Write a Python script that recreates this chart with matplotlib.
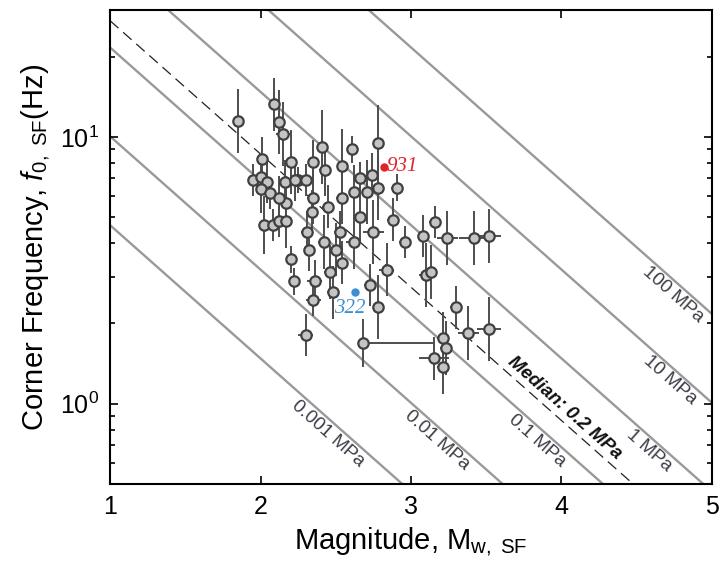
import numpy as np
import matplotlib.pyplot as plt

plt.rcParams['font.family'] = ['Liberation Sans', 'DejaVu Sans']
plt.rcParams['mathtext.fontset'] = 'custom'
plt.rcParams['mathtext.rm'] = 'Liberation Sans'
plt.rcParams['mathtext.it'] = 'Liberation Sans:italic'
plt.rcParams['mathtext.bf'] = 'Liberation Sans:bold'

# Event estimates: magnitude, corner frequency (Hz), errors
mag = [1.85, 2.09, 2.12, 2.15, 2.01, 2.20, 1.95, 2.00, 2.04, 2.00,
       2.06, 2.16, 2.25, 2.02, 2.08, 2.12, 2.17, 2.20, 2.22, 2.30,
       2.68, 2.34, 2.45, 2.66, 2.88, 2.31, 2.42, 2.53, 2.75, 2.32,
       2.50, 2.54, 2.62, 2.46, 2.36, 2.48, 2.73, 2.84, 2.35, 2.78,
       2.96, 2.41, 2.61, 2.35, 2.78, 2.43, 2.54, 2.66, 2.74, 2.23,
       2.30, 2.78, 2.91, 2.62, 2.71, 2.54, 2.35, 3.16, 3.08, 3.24,
       3.42, 3.52, 3.10, 3.13, 3.30, 3.38, 3.52, 3.21, 3.23, 3.15,
       3.21, 2.17, 2.12]
freq = [11.5, 13.3, 11.4, 10.3, 8.3, 8.1, 6.9, 7.1, 6.8, 6.4,
        6.2, 6.8, 6.9, 4.69, 4.69, 4.84, 4.84, 3.48, 2.88, 1.81,
        1.69, 5.25, 5.48, 5.03, 4.90, 4.40, 4.04, 4.40, 4.40, 3.78,
        3.78, 3.38, 4.04, 3.12, 2.88, 2.62, 2.79, 3.18, 2.45, 2.30,
        4.04, 9.2, 9.0, 8.1, 9.55, 7.56, 7.8, 7.05, 7.24, 6.93,
        6.93, 6.47, 6.47, 6.22, 6.22, 5.93, 5.93, 4.80, 4.26, 4.18,
        4.18, 4.26, 3.04, 3.12, 2.30, 1.84, 1.90, 1.76, 1.62, 1.48,
        1.37, 5.68, 5.93]
mag_err_lo = [0.02, 0.03, 0.03, 0.05, 0.03, 0.03, 0.03, 0.03, 0.04, 0.03,
              0.03, 0.04, 0.04, 0.03, 0.03, 0.03, 0.03, 0.03, 0.03, 0.05,
              0.02, 0.03, 0.04, 0.03, 0.04, 0.04, 0.04, 0.04, 0.07, 0.03,
              0.04, 0.04, 0.05, 0.04, 0.05, 0.04, 0.04, 0.05, 0.05, 0.03,
              0.04, 0.03, 0.03, 0.03, 0.03, 0.04, 0.03, 0.04, 0.03, 0.03,
              0.03, 0.03, 0.04, 0.03, 0.03, 0.04, 0.04, 0.04, 0.03, 0.07,
              0.10, 0.08, 0.05, 0.03, 0.04, 0.07, 0.08, 0.04, 0.04, 0.10,
              0.04, 0.03, 0.03]
mag_err_hi = list(mag_err_lo)
mag_err_hi[20] = 0.47
logf_err = [0.12, 0.10, 0.12, 0.12, 0.08, 0.12, 0.06, 0.06, 0.08, 0.09,
            0.06, 0.08, 0.05, 0.11, 0.06, 0.06, 0.10, 0.05, 0.05, 0.08,
            0.09, 0.08, 0.08, 0.10, 0.08, 0.08, 0.10, 0.08, 0.12, 0.08,
            0.10, 0.08, 0.10, 0.10, 0.08, 0.10, 0.08, 0.10, 0.06, 0.12,
            0.06, 0.14, 0.05, 0.08, 0.14, 0.10, 0.14, 0.06, 0.08, 0.08,
            0.06, 0.12, 0.05, 0.10, 0.12, 0.10, 0.10, 0.06, 0.08, 0.10,
            0.10, 0.10, 0.12, 0.10, 0.08, 0.10, 0.12, 0.10, 0.10, 0.08,
            0.10, 0.08, 0.08]

# highlighted events
event_ids = ['931', '322']
event_mag = [2.82, 2.63]
event_freq = [7.75, 2.62]
event_colors = ['#e0222c', '#3b8fd4']

# constant stress-drop reference lines (MPa)
stress_mpa = [0.001, 0.01, 0.1, 1, 10, 100]
stress_labels = ['0.001 MPa', '0.01 MPa', '0.1 MPa', '1 MPa', '10 MPa', '100 MPa']
median_mpa = 0.2
C0 = 2.17  # log10 f0 intercept for 1 MPa at Mw 0


def line_logf(m, mpa):
    return C0 + np.log10(mpa) / 3.0 - 0.5 * np.asarray(m)


fig = plt.figure(figsize=(7.21, 5.71), dpi=100)
ax = fig.add_axes([0.1526, 0.1524, 0.8349, 0.8301])
ax.set_yscale('log')
ax.set_xlim(1, 5)
ax.set_ylim(0.5, 30)

mm = np.linspace(1, 5, 50)
for s in stress_mpa:
    ax.plot(mm, 10 ** line_logf(mm, s), color='#999999', lw=1.7, zorder=1)
ax.plot(mm, 10 ** line_logf(mm, median_mpa), color='#222222', lw=0.9,
        dashes=(9, 5), zorder=1.5)

mag_a = np.array(mag)
f_a = np.array(freq)
le = np.array(logf_err)
yerr = [f_a - f_a / 10 ** le, f_a * 10 ** le - f_a]
ax.errorbar(mag_a, f_a, xerr=[mag_err_lo, mag_err_hi], yerr=yerr, fmt='o',
            ms=7.5, mfc='#c4c4c4', mec='#404040', mew=1.6, ecolor='#4d4d4d',
            elinewidth=1.4, capsize=0, zorder=3)

# highlighted events
ax.plot(event_mag[0], event_freq[0], 'o', ms=5, color=event_colors[0], zorder=4)
ax.plot(event_mag[1], event_freq[1], 'o', ms=5, color=event_colors[1], zorder=4)
ax.annotate(event_ids[0], (event_mag[0], event_freq[0]), xytext=(2, 0),
            textcoords='offset points', ha='left', va='center',
            color=event_colors[0], fontsize=15, family='Liberation Serif',
            style='italic', zorder=5)
ax.annotate(event_ids[1], (event_mag[1], event_freq[1]), xytext=(-4, -12),
            textcoords='offset points', ha='center', va='center',
            color=event_colors[1], fontsize=15, family='Liberation Serif',
            style='italic', zorder=5)

# rotation of the reference lines on screen
p1 = ax.transData.transform((1, 10 ** line_logf(1, 1)))
p2 = ax.transData.transform((5, 10 ** line_logf(5, 1)))
theta = np.arctan2(p2[1] - p1[1], p2[0] - p1[0])
angle = np.degrees(theta)
perp = np.array([np.sin(theta), -np.cos(theta)])

label_mag = [2.50, 3.22, 3.89, 4.63, 4.77, 4.79]
for s, lab, m in zip(stress_mpa, stress_labels, label_mag):
    off = perp * 8
    ax.annotate(lab, (m, 10 ** line_logf(m, s)), xytext=off,
                textcoords='offset points', rotation=angle,
                rotation_mode='anchor', ha='center', va='center',
                fontsize=13.5, color='#3c3c48', zorder=2)
ax.annotate('Median: 0.2 MPa', (3.97, 10 ** line_logf(3.97, median_mpa)),
            xytext=-perp * 8, textcoords='offset points', rotation=angle,
            rotation_mode='anchor', ha='center', va='center', fontsize=13.5,
            fontweight='bold', style='italic', color='#111111', zorder=2)

ax.set_xticks([1, 2, 3, 4, 5])
ax.tick_params(which='both', direction='in', top=True, right=True,
               labelsize=18, width=1.2)
ax.tick_params(which='major', length=6, pad=8)
ax.tick_params(which='minor', length=3.5)
for sp in ax.spines.values():
    sp.set_linewidth(1.5)

ax.set_xlabel(r'Magnitude, M$_{\mathrm{w,\ SF}}$', fontsize=21, labelpad=4)
ax.set_ylabel(r'Corner Frequency, $f_{0,\ \mathrm{SF}}$(Hz)', fontsize=21,
              labelpad=6)

fig.savefig('out.png', dpi=100, facecolor='white')
